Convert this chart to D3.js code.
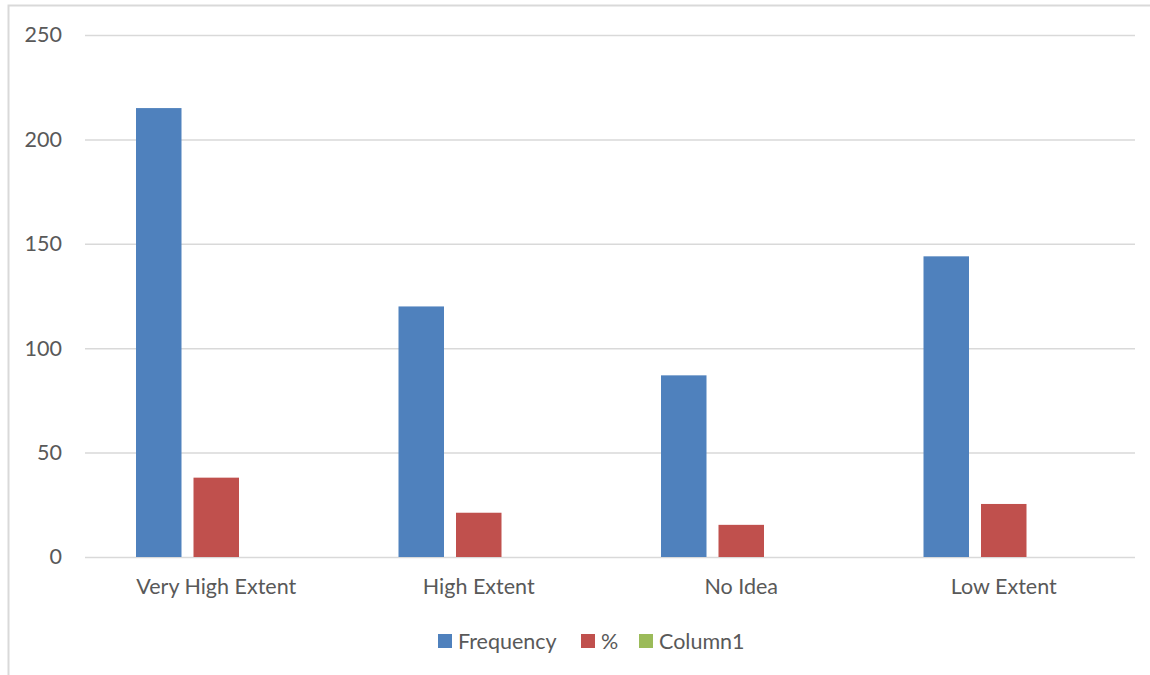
<!DOCTYPE html>
<html>
<head>
<meta charset="utf-8">
<script src="https://cdn.jsdelivr.net/npm/d3@7"></script>
<style>
  html, body { margin: 0; padding: 0; background: #fff; }
  svg { display: block; }
  text { font-family: Lato, "Open Sans", sans-serif; fill: #595959; }
</style>
</head>
<body>
<svg id="chart" width="1150" height="675"></svg>
<script>
// Responses per category
const categories = ["Very High Extent", "High Extent", "No Idea", "Low Extent"];
const seriesNames = ["Frequency", "%", "Column1"];
const frequency = [215, 120, 87, 144];
const percent = [38.0, 21.2, 15.4, 25.4];
const column1 = [null, null, null, null];
const yTicks = [0, 50, 100, 150, 200, 250];
const colors = ["#4f81bd", "#c0504d", "#9bbb59"];

const seriesValues = [frequency, percent, column1];

const svg = d3.select("#chart");
const W = 1150, H = 675;
const plot = { left: 85, right: 1135, top: 35, bottom: 557 };
const fontSize = 21.5;

// chart frame (top and left edges visible)
svg.append("path")
  .attr("d", `M8.5,${H} V5.5 H${W}`)
  .attr("fill", "none")
  .attr("stroke", "#d9d9d9")
  .attr("stroke-width", 2);

const y = d3.scaleLinear().domain([0, 250]).range([plot.bottom, plot.top]);
const x0 = d3.scaleBand().domain(categories).range([plot.left, plot.right]).padding(0);
const x1 = d3.scaleBand().domain(seriesNames).range([0, x0.bandwidth()])
  .paddingInner(0.2087).paddingOuter(0.887);

// gridlines and y labels
const yAxis = d3.axisLeft(y).tickValues(yTicks).tickSize(-(plot.right - plot.left)).tickPadding(23);
const gy = svg.append("g").attr("transform", `translate(${plot.left},0)`).call(yAxis);
gy.select(".domain").remove();
gy.selectAll(".tick line").attr("stroke", "#d9d9d9").attr("stroke-width", 1.5);
gy.selectAll(".tick text").attr("font-size", fontSize).style("fill", "#595959")
  .attr("font-family", "Lato, sans-serif");

// bars
const groups = svg.append("g").selectAll("g")
  .data(categories)
  .join("g")
  .attr("transform", d => `translate(${x0(d)},0)`);

groups.selectAll("rect")
  .data((c, i) => seriesNames.map((s, k) => ({ s, k, v: seriesValues[k][i] })).filter(d => d.v != null))
  .join("rect")
  .attr("x", d => x1(d.s))
  .attr("width", x1.bandwidth())
  .attr("y", d => y(d.v))
  .attr("height", d => y(0) - y(d.v))
  .attr("fill", d => colors[d.k]);

// category axis
const xAxis = d3.axisBottom(x0).tickSize(0).tickPadding(22);
const gx = svg.append("g").attr("transform", `translate(0,${plot.bottom})`).call(xAxis);
gx.select(".domain").remove();
gx.selectAll(".tick text").attr("font-size", fontSize).style("fill", "#595959")
  .attr("font-family", "Lato, sans-serif");

// legend
const legendItems = [
  { name: "Frequency", x: 438 },
  { name: "%", x: 581 },
  { name: "Column1", x: 639 }
];
const lg = svg.append("g").selectAll("g")
  .data(legendItems)
  .join("g")
  .attr("transform", d => `translate(${d.x},634)`);
lg.append("rect").attr("width", 14).attr("height", 14)
  .attr("fill", (d, i) => colors[i]);
lg.append("text").attr("x", 20).attr("y", 7).attr("dy", "0.35em")
  .attr("font-size", fontSize).text(d => d.name);
</script>
</body>
</html>
